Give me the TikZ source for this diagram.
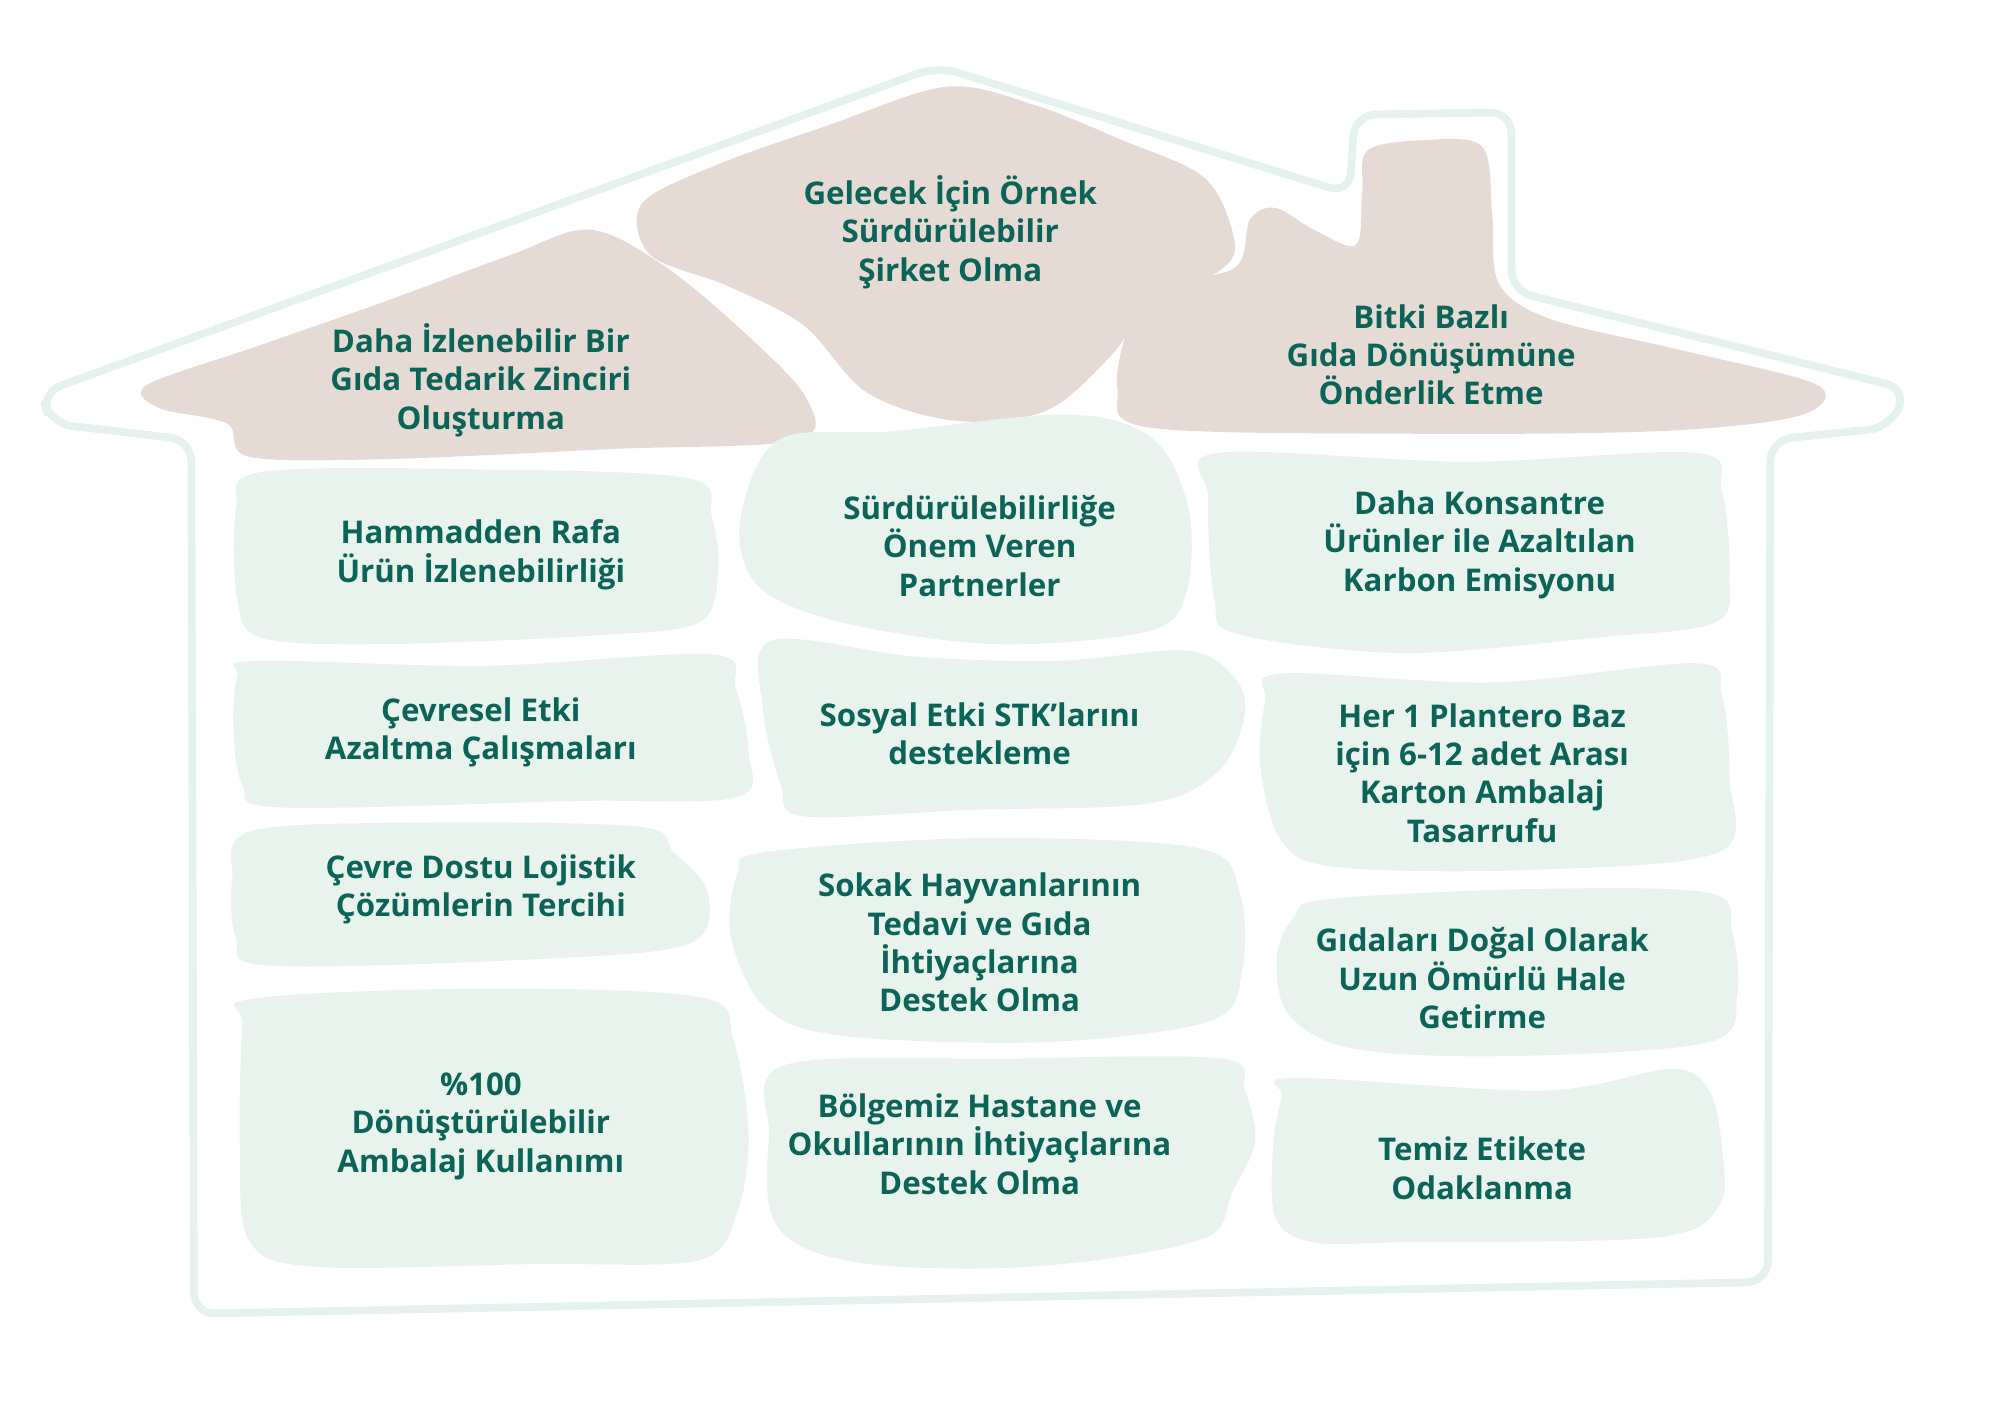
\documentclass[tikz,border=0pt]{standalone}
\usepackage{fontspec}
\setmainfont{Open Sans}
\definecolor{txt}{RGB}{12,99,87}
\definecolor{roof}{RGB}{229,218,212}
\definecolor{leaf}{RGB}{232,243,238}
\definecolor{edge}{RGB}{228,241,236}
\begin{document}
\begin{tikzpicture}[x=0.012755cm,y=-0.012755cm,
  lbl/.style={align=center,text=txt,font=\fontsize{8.9}{10.9}\selectfont\bfseries,inner sep=0pt},
  roofblob/.style={fill=roof},
  leafblob/.style={fill=leaf},
  house/.style={draw=edge,line width=2.2pt,rounded corners=6pt,line join=round}]
\useasboundingbox (0,0) rectangle (1568,1099);
% house outline
\draw[house] (32,308) -- (735,52) -- (1058,152) -- (1062,90) -- (1185,88) -- (1185,228) -- (1495,305) -- (1482,335) -- (1388,345) -- (1386,1005) -- (152,1030) -- (150,345) -- (40,332) -- cycle;
% roof blobs
\fill[roofblob] plot[smooth cycle,tension=0.55] coordinates {(115,302) (200,272) (300,237) (400,200) (462,180) (520,208) (585,262) (632,312) (625,345) (480,352) (300,360) (195,358) (178,332) (125,320)};
\fill[roofblob] plot[smooth cycle,tension=0.55] coordinates {(503,160) (560,130) (650,98) (742,68) (810,82) (880,110) (945,140) (968,190) (955,213) (905,235) (870,280) (820,322) (750,330) (680,308) (630,255) (570,224) (510,200)};
\fill[roofblob] plot[smooth cycle,tension=0.55] coordinates {(905,225) (968,210) (980,172) (1000,163) (1030,180) (1063,192) (1068,150) (1072,118) (1115,110) (1162,115) (1170,170) (1175,222) (1215,250) (1320,275) (1425,302) (1410,326) (1300,338) (1100,340) (900,335) (876,305) (885,255)};
% leaf blobs
\fill[leafblob] plot[smooth cycle,tension=0.55] coordinates {(205,370) (380,368) (540,375) (558,405) (563,450) (548,488) (470,498) (300,505) (205,500) (186,470) (185,400)};
\fill[leafblob] plot[smooth cycle,tension=0.55] coordinates {(610,345) (700,338) (840,325) (905,345) (932,400) (930,465) (900,495) (780,505) (660,488) (595,460) (580,410)};
\fill[leafblob] plot[smooth cycle,tension=0.55] coordinates {(955,355) (1150,362) (1330,355) (1350,385) (1356,450) (1345,488) (1250,500) (1100,512) (970,497) (952,470) (947,390)};
\fill[leafblob] plot[smooth cycle,tension=0.55] coordinates {(200,518) (380,522) (558,513) (577,540) (587,590) (578,625) (450,628) (220,633) (190,615) (183,570) (186,530)};
\fill[leafblob] plot[smooth cycle,tension=0.55] coordinates {(605,502) (720,515) (830,518) (930,510) (967,530) (976,560) (955,605) (900,630) (760,635) (630,640) (612,615) (598,555)};
\fill[leafblob] plot[smooth cycle,tension=0.55] coordinates {(1005,528) (1170,535) (1330,520) (1350,545) (1356,610) (1348,668) (1200,682) (1050,680) (1005,660) (988,600) (992,550)};
\fill[leafblob] plot[smooth cycle,tension=0.55] coordinates {(195,652) (320,645) (500,648) (528,668) (555,700) (540,740) (420,752) (210,757) (185,735) (182,690)};
\fill[leafblob] plot[smooth cycle,tension=0.55] coordinates {(600,668) (770,657) (940,665) (972,700) (974,760) (950,800) (820,817) (660,812) (600,790) (573,735) (578,685)};
\fill[leafblob] plot[smooth cycle,tension=0.55] coordinates {(1040,705) (1200,697) (1340,700) (1358,730) (1362,780) (1340,817) (1180,828) (1060,822) (1010,795) (1001,750) (1015,718)};
\fill[leafblob] plot[smooth cycle,tension=0.55] coordinates {(198,783) (380,775) (550,782) (575,815) (587,890) (578,950) (548,988) (420,991) (245,993) (195,972) (188,900) (190,805)};
\fill[leafblob] plot[smooth cycle,tension=0.55] coordinates {(615,835) (790,830) (958,830) (976,855) (984,895) (966,935) (950,968) (880,985) (790,994) (690,992) (630,978) (604,950) (603,890)};
\fill[leafblob] plot[smooth cycle,tension=0.55] coordinates {(1015,845) (1210,855) (1310,838) (1340,855) (1350,900) (1348,945) (1300,970) (1100,974) (1030,974) (1000,955) (998,900) (1005,860)};
% labels
\node[lbl] (t1) at (377,298) {Daha İzlenebilir Bir\\Gıda Tedarik Zinciri\\Oluşturma};
\node[lbl] (t2) at (745,182) {Gelecek İçin Örnek\\Sürdürülebilir\\Şirket Olma};
\node[lbl] (t3) at (1122,278) {Bitki Bazlı\\Gıda Dönüşümüne\\Önderlik Etme};
\node[lbl] (g1) at (377,435) {Hammadden Rafa\\Ürün İzlenebilirliği};
\node[lbl] (g2) at (768,428) {Sürdürülebilirliğe\\Önem Veren\\Partnerler};
\node[lbl] (g3) at (1160,427) {Daha Konsantre\\Ürünler ile Azaltılan\\Karbon Emisyonu};
\node[lbl] (g4) at (377,574) {Çevresel Etki\\Azaltma Çalışmaları};
\node[lbl] (g5) at (768,575) {Sosyal Etki STK’larını\\destekleme};
\node[lbl] (g6) at (1162,606) {Her 1 Plantero Baz\\için 6-12 adet Arası\\Karton Ambalaj\\Tasarrufu};
\node[lbl] (g7) at (377,697) {Çevre Dostu Lojistik\\Çözümlerin Tercihi};
\node[lbl] (g8) at (768,739) {Sokak Hayvanlarının\\Tedavi ve Gıda\\İhtiyaçlarına\\Destek Olma};
\node[lbl] (g9) at (1162,767) {Gıdaları Doğal Olarak\\Uzun Ömürlü Hale\\Getirme};
\node[lbl] (g10) at (377,883) {\%100\\Dönüştürülebilir\\Ambalaj Kullanımı};
\node[lbl] (g11) at (768,897) {Bölgemiz Hastane ve\\Okullarının İhtiyaçlarına\\Destek Olma};
\node[lbl] (g12) at (1162,916) {Temiz Etikete\\Odaklanma};
\end{tikzpicture}
\end{document}
